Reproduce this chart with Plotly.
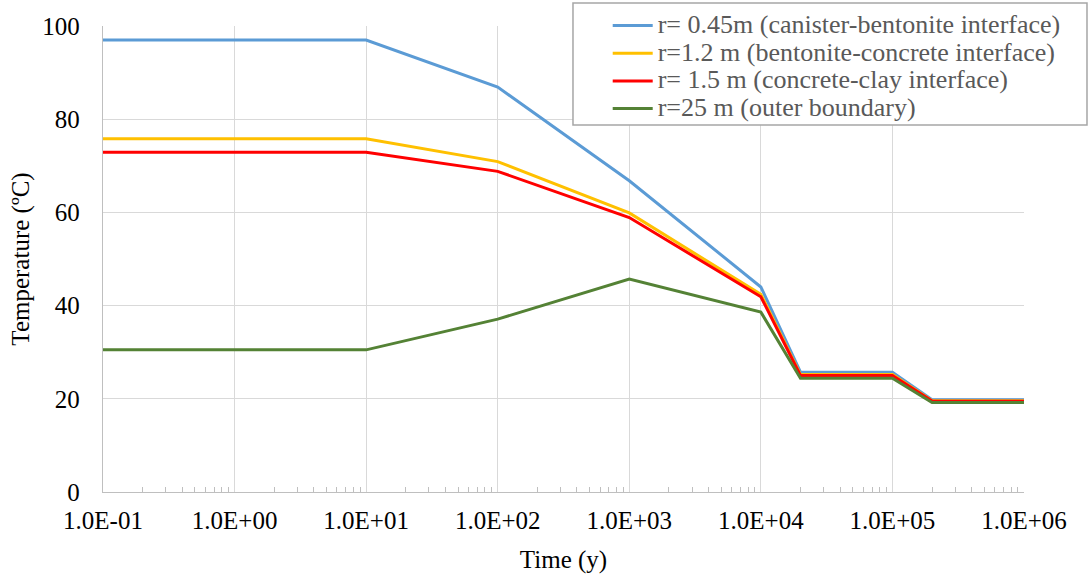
import plotly.graph_objects as go

time_y = [0.1, 10, 100, 1000, 10000, 20000, 100000, 200000, 1000000]
t_canister = [97, 97, 86.9, 66.8, 44.0, 25.7, 25.7, 19.8, 19.8]
t_bentonite = [75.8, 75.8, 70.9, 59.9, 42.4, 25.2, 25.2, 19.6, 19.6]
t_concrete = [72.9, 72.9, 68.8, 58.9, 41.9, 25.0, 25.0, 19.5, 19.5]
t_outer = [30.5, 30.5, 37.1, 45.7, 38.6, 24.4, 24.4, 19.2, 19.2]

series_names = [
    "r= 0.45m (canister-bentonite interface)",
    "r=1.2 m (bentonite-concrete interface)",
    "r= 1.5 m (concrete-clay interface)",
    "r=25 m (outer boundary)",
]
series_colors = ["#5B9BD5", "#FFC000", "#FF0000", "#548235"]
series_values = [t_canister, t_bentonite, t_concrete, t_outer]

x_tickvals = [0.1, 1, 10, 100, 1000, 10000, 100000, 1000000]
x_ticktext = ["1.0E-01", "1.0E+00", "1.0E+01", "1.0E+02", "1.0E+03", "1.0E+04", "1.0E+05", "1.0E+06"]
x_minor = [k * v for v in x_tickvals[:-1] for k in range(2, 10)]
y_tickvals = [0, 20, 40, 60, 80, 100]

FONT = "Liberation Serif, Times New Roman, serif"

fig = go.Figure()
for name, color, vals in zip(series_names, series_colors, series_values):
    fig.add_trace(go.Scatter(x=time_y, y=vals, mode="lines",
                             name=f'<span style="font-size:26px">{name}</span>',
                             line=dict(color=color, width=3)))

# legend frame (decoration)
fig.add_shape(type="rect", xref="paper", yref="paper",
              x0=0.5103, x1=1.0684, y0=0.7876, y1=1.0494,
              line=dict(color="#a6a6a6", width=1.5), fillcolor="white", layer="above")

fig.update_layout(
    width=1091, height=579,
    margin=dict(l=103, r=67, t=26, b=87, autoexpand=False),
    paper_bgcolor="white", plot_bgcolor="white",
    font=dict(family=FONT, size=25, color="black"),
    showlegend=True,
    legend=dict(
        x=0.548, y=1.0415, xanchor="left", yanchor="top",
        bgcolor="rgba(0,0,0,0)", borderwidth=0,
        font=dict(family=FONT, size=19, color="#595959"),
        tracegroupgap=0, itemwidth=40,
    ),
)
fig.update_xaxes(
    type="log", range=[-1, 6],
    tickmode="array", tickvals=x_tickvals, ticktext=x_ticktext,
    showgrid=True, gridcolor="#d9d9d9", gridwidth=1.3,
    showline=True, linecolor="#bfbfbf", linewidth=1.3,
    ticks="", ticklabelstandoff=6,
    minor=dict(tickmode="array", tickvals=x_minor, ticks="inside", ticklen=5,
               tickcolor="#bfbfbf", tickwidth=1, showgrid=False),
    title=dict(text="Time (y)", font=dict(family=FONT, size=25), standoff=17),
    zeroline=False,
)
fig.update_yaxes(
    range=[0, 100], tickmode="array", tickvals=y_tickvals,
    showgrid=True, gridcolor="#d9d9d9", gridwidth=1.3,
    showline=True, linecolor="#bfbfbf", linewidth=1.3,
    ticks="", ticklabelstandoff=17,
    title=dict(text="Temperature (ºC)", font=dict(family=FONT, size=25), standoff=5),
    zeroline=False,
)

fig.write_html("out.html")
